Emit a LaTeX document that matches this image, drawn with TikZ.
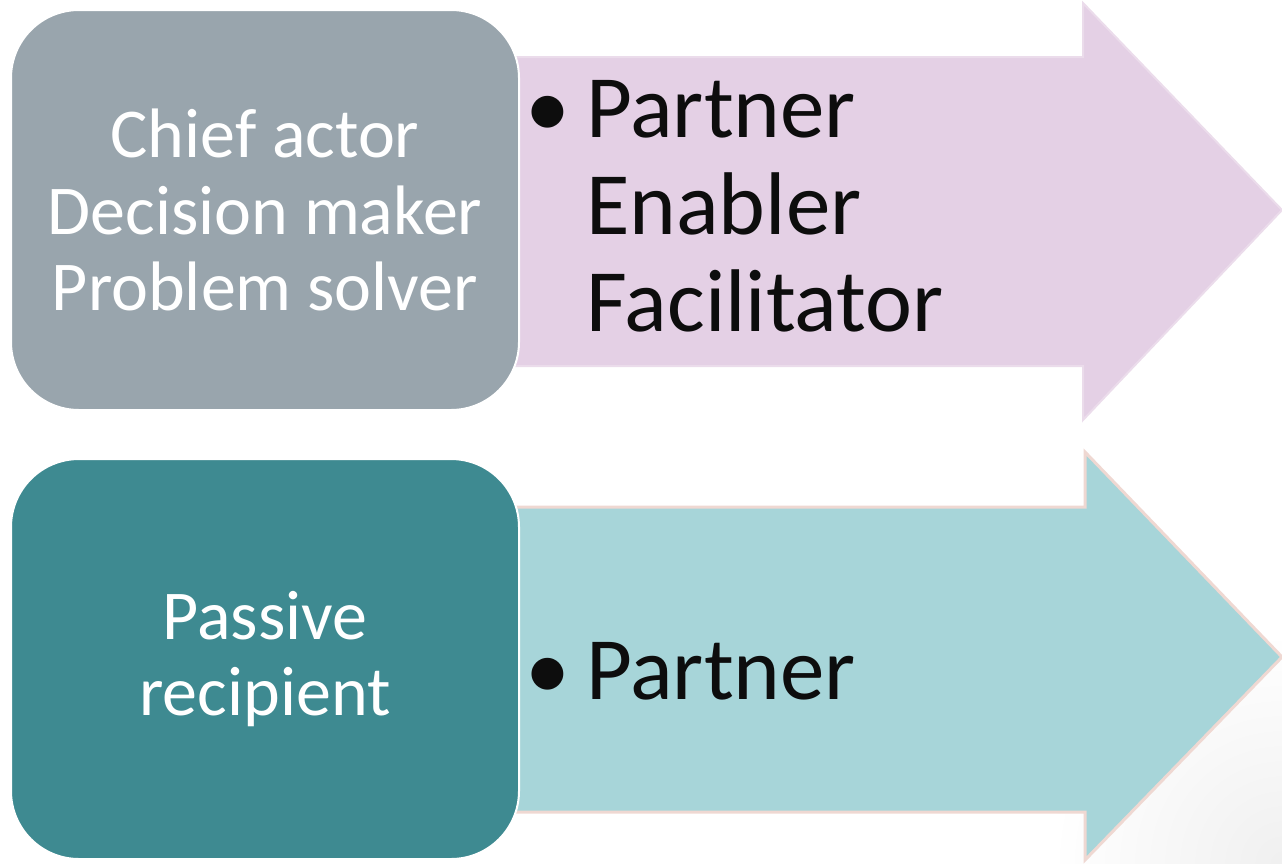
\documentclass[tikz,border=0pt]{standalone}
\usepackage{fontspec}
\setmainfont{Carlito}
\usepackage{xcolor}
\usetikzlibrary{positioning}

\definecolor{actorgray}{HTML}{99A5AD}
\definecolor{passiveteal}{HTML}{3E8A91}
\definecolor{partnerpink}{HTML}{E4D0E5}
\definecolor{partnerpinkedge}{HTML}{EBDCEB}
\definecolor{partnercyan}{HTML}{A7D5D9}
\definecolor{partnercyanedge}{HTML}{EFD8D2}

\newcommand{\rolebullet}{\makebox[55pt][l]{\hspace*{-6pt}{\fontsize{90}{97}\selectfont\textbullet}}}

\begin{document}
\begin{tikzpicture}[x=1pt,y=-1pt,
	rolebox/.style={draw=white,line width=2pt,rounded corners=68pt,minimum width=508pt,minimum height=400pt,text=white,align=center,font=\fontsize{70}{76.5}\selectfont},
	rolelist/.style={anchor=north west,inner sep=0pt,align=left,text=black!95,font=\fontsize{89}{97}\selectfont}]
	\useasboundingbox (0,0) rectangle (1282,863);
	\shade[inner color=black!6,outer color=white] (1282,863) circle (230);
	
	\filldraw[fill=partnerpink,draw=partnerpinkedge,line width=2pt] (512,57) -- (1083,57) -- (1083,3) -- (1282,210) -- (1083,420) -- (1083,366) -- (512,366) -- cycle;
	\filldraw[fill=partnercyan,draw=partnercyanedge,line width=3pt] (512,507) -- (1085,507) -- (1085,452) -- (1282,657) -- (1085,860) -- (1085,812) -- (512,812) -- cycle;
	
	\node[rolebox,fill=actorgray] (actor) at (265,210) {Chief actor\\Decision maker\\Problem solver};
	\node[rolebox,fill=passiveteal] (passive) at (265,659) {Passive\\recipient};
	
	\node[rolelist] (partnerA) at (531,80) {\rolebullet Partner\\\hspace*{55pt}Enabler\\\hspace*{55pt}Facilitator};
	\node[rolelist] (partnerB) at (531,642) {\rolebullet Partner};
	
\end{tikzpicture}
\end{document}
